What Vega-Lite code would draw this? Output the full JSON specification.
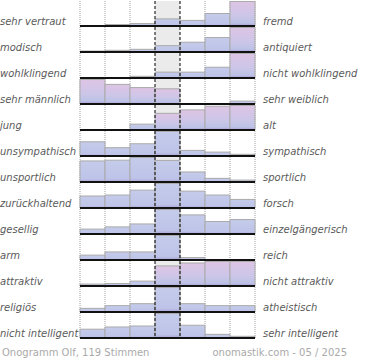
{
  "$schema": "https://vega.github.io/schema/vega-lite/v6.json",
  "padding": 0,
  "autosize": {"type": "pad"},
  "bounds": "flush",
  "data": {"values": [
    {"zeile":1,"links":"sehr vertraut","rechts":"fremd","spalte":1,"wert":0},
    {"zeile":1,"links":"sehr vertraut","rechts":"fremd","spalte":2,"wert":6},
    {"zeile":1,"links":"sehr vertraut","rechts":"fremd","spalte":3,"wert":10},
    {"zeile":1,"links":"sehr vertraut","rechts":"fremd","spalte":4,"wert":29},
    {"zeile":1,"links":"sehr vertraut","rechts":"fremd","spalte":5,"wert":23},
    {"zeile":1,"links":"sehr vertraut","rechts":"fremd","spalte":6,"wert":51},
    {"zeile":1,"links":"sehr vertraut","rechts":"fremd","spalte":7,"wert":100},
    {"zeile":2,"links":"modisch","rechts":"antiquiert","spalte":1,"wert":4},
    {"zeile":2,"links":"modisch","rechts":"antiquiert","spalte":2,"wert":7},
    {"zeile":2,"links":"modisch","rechts":"antiquiert","spalte":3,"wert":11},
    {"zeile":2,"links":"modisch","rechts":"antiquiert","spalte":4,"wert":26},
    {"zeile":2,"links":"modisch","rechts":"antiquiert","spalte":5,"wert":40},
    {"zeile":2,"links":"modisch","rechts":"antiquiert","spalte":6,"wert":59},
    {"zeile":2,"links":"modisch","rechts":"antiquiert","spalte":7,"wert":100},
    {"zeile":3,"links":"wohlklingend","rechts":"nicht wohlklingend","spalte":1,"wert":0},
    {"zeile":3,"links":"wohlklingend","rechts":"nicht wohlklingend","spalte":2,"wert":0},
    {"zeile":3,"links":"wohlklingend","rechts":"nicht wohlklingend","spalte":3,"wert":7},
    {"zeile":3,"links":"wohlklingend","rechts":"nicht wohlklingend","spalte":4,"wert":24},
    {"zeile":3,"links":"wohlklingend","rechts":"nicht wohlklingend","spalte":5,"wert":24},
    {"zeile":3,"links":"wohlklingend","rechts":"nicht wohlklingend","spalte":6,"wert":44},
    {"zeile":3,"links":"wohlklingend","rechts":"nicht wohlklingend","spalte":7,"wert":100},
    {"zeile":4,"links":"sehr männlich","rechts":"sehr weiblich","spalte":1,"wert":100},
    {"zeile":4,"links":"sehr männlich","rechts":"sehr weiblich","spalte":2,"wert":80},
    {"zeile":4,"links":"sehr männlich","rechts":"sehr weiblich","spalte":3,"wert":67},
    {"zeile":4,"links":"sehr männlich","rechts":"sehr weiblich","spalte":4,"wert":62},
    {"zeile":4,"links":"sehr männlich","rechts":"sehr weiblich","spalte":5,"wert":0},
    {"zeile":4,"links":"sehr männlich","rechts":"sehr weiblich","spalte":6,"wert":0},
    {"zeile":4,"links":"sehr männlich","rechts":"sehr weiblich","spalte":7,"wert":12},
    {"zeile":5,"links":"\u2004jung","rechts":"alt","spalte":1,"wert":0},
    {"zeile":5,"links":"\u2004jung","rechts":"alt","spalte":2,"wert":2},
    {"zeile":5,"links":"\u2004jung","rechts":"alt","spalte":3,"wert":24},
    {"zeile":5,"links":"\u2004jung","rechts":"alt","spalte":4,"wert":68},
    {"zeile":5,"links":"\u2004jung","rechts":"alt","spalte":5,"wert":82},
    {"zeile":5,"links":"\u2004jung","rechts":"alt","spalte":6,"wert":97},
    {"zeile":5,"links":"\u2004jung","rechts":"alt","spalte":7,"wert":100},
    {"zeile":6,"links":"unsympathisch","rechts":"sympathisch","spalte":1,"wert":58},
    {"zeile":6,"links":"unsympathisch","rechts":"sympathisch","spalte":2,"wert":34},
    {"zeile":6,"links":"unsympathisch","rechts":"sympathisch","spalte":3,"wert":50},
    {"zeile":6,"links":"unsympathisch","rechts":"sympathisch","spalte":4,"wert":100},
    {"zeile":6,"links":"unsympathisch","rechts":"sympathisch","spalte":5,"wert":23},
    {"zeile":6,"links":"unsympathisch","rechts":"sympathisch","spalte":6,"wert":16},
    {"zeile":6,"links":"unsympathisch","rechts":"sympathisch","spalte":7,"wert":7},
    {"zeile":7,"links":"unsportlich","rechts":"sportlich","spalte":1,"wert":86},
    {"zeile":7,"links":"unsportlich","rechts":"sportlich","spalte":2,"wert":89},
    {"zeile":7,"links":"unsportlich","rechts":"sportlich","spalte":3,"wert":100},
    {"zeile":7,"links":"unsportlich","rechts":"sportlich","spalte":4,"wert":88},
    {"zeile":7,"links":"unsportlich","rechts":"sportlich","spalte":5,"wert":41},
    {"zeile":7,"links":"unsportlich","rechts":"sportlich","spalte":6,"wert":15},
    {"zeile":7,"links":"unsportlich","rechts":"sportlich","spalte":7,"wert":8},
    {"zeile":8,"links":"zurückhaltend","rechts":"forsch","spalte":1,"wert":49},
    {"zeile":8,"links":"zurückhaltend","rechts":"forsch","spalte":2,"wert":53},
    {"zeile":8,"links":"zurückhaltend","rechts":"forsch","spalte":3,"wert":73},
    {"zeile":8,"links":"zurückhaltend","rechts":"forsch","spalte":4,"wert":100},
    {"zeile":8,"links":"zurückhaltend","rechts":"forsch","spalte":5,"wert":69},
    {"zeile":8,"links":"zurückhaltend","rechts":"forsch","spalte":6,"wert":53},
    {"zeile":8,"links":"zurückhaltend","rechts":"forsch","spalte":7,"wert":35},
    {"zeile":9,"links":"gesellig","rechts":"einzelgängerisch","spalte":1,"wert":20},
    {"zeile":9,"links":"gesellig","rechts":"einzelgängerisch","spalte":2,"wert":29},
    {"zeile":9,"links":"gesellig","rechts":"einzelgängerisch","spalte":3,"wert":41},
    {"zeile":9,"links":"gesellig","rechts":"einzelgängerisch","spalte":4,"wert":100},
    {"zeile":9,"links":"gesellig","rechts":"einzelgängerisch","spalte":5,"wert":78},
    {"zeile":9,"links":"gesellig","rechts":"einzelgängerisch","spalte":6,"wert":51},
    {"zeile":9,"links":"gesellig","rechts":"einzelgängerisch","spalte":7,"wert":59},
    {"zeile":10,"links":"arm","rechts":"reich","spalte":1,"wert":20},
    {"zeile":10,"links":"arm","rechts":"reich","spalte":2,"wert":33},
    {"zeile":10,"links":"arm","rechts":"reich","spalte":3,"wert":33},
    {"zeile":10,"links":"arm","rechts":"reich","spalte":4,"wert":100},
    {"zeile":10,"links":"arm","rechts":"reich","spalte":5,"wert":10},
    {"zeile":10,"links":"arm","rechts":"reich","spalte":6,"wert":0},
    {"zeile":10,"links":"arm","rechts":"reich","spalte":7,"wert":0},
    {"zeile":11,"links":"attraktiv","rechts":"nicht attraktiv","spalte":1,"wert":8},
    {"zeile":11,"links":"attraktiv","rechts":"nicht attraktiv","spalte":2,"wert":10},
    {"zeile":11,"links":"attraktiv","rechts":"nicht attraktiv","spalte":3,"wert":20},
    {"zeile":11,"links":"attraktiv","rechts":"nicht attraktiv","spalte":4,"wert":82},
    {"zeile":11,"links":"attraktiv","rechts":"nicht attraktiv","spalte":5,"wert":94},
    {"zeile":11,"links":"attraktiv","rechts":"nicht attraktiv","spalte":6,"wert":100},
    {"zeile":11,"links":"attraktiv","rechts":"nicht attraktiv","spalte":7,"wert":100},
    {"zeile":12,"links":"religiös","rechts":"atheistisch","spalte":1,"wert":15},
    {"zeile":12,"links":"religiös","rechts":"atheistisch","spalte":2,"wert":26},
    {"zeile":12,"links":"religiös","rechts":"atheistisch","spalte":3,"wert":34},
    {"zeile":12,"links":"religiös","rechts":"atheistisch","spalte":4,"wert":100},
    {"zeile":12,"links":"religiös","rechts":"atheistisch","spalte":5,"wert":34},
    {"zeile":12,"links":"religiös","rechts":"atheistisch","spalte":6,"wert":26},
    {"zeile":12,"links":"religiös","rechts":"atheistisch","spalte":7,"wert":26},
    {"zeile":13,"links":"nicht intelligent","rechts":"sehr intelligent","spalte":1,"wert":36},
    {"zeile":13,"links":"nicht intelligent","rechts":"sehr intelligent","spalte":2,"wert":45},
    {"zeile":13,"links":"nicht intelligent","rechts":"sehr intelligent","spalte":3,"wert":49},
    {"zeile":13,"links":"nicht intelligent","rechts":"sehr intelligent","spalte":4,"wert":100},
    {"zeile":13,"links":"nicht intelligent","rechts":"sehr intelligent","spalte":5,"wert":52},
    {"zeile":13,"links":"nicht intelligent","rechts":"sehr intelligent","spalte":6,"wert":15},
    {"zeile":13,"links":"nicht intelligent","rechts":"sehr intelligent","spalte":7,"wert":7}
  ]},
  "facet": {"row": {"field": "zeile", "type": "ordinal", "header": null}},
  "spacing": {"row": 0},
  "resolve": {"scale": {"x": "shared", "y": "shared"}},
  "spec": {
    "width": 175,
    "height": 26,
    "encoding": {
      "x": {"field": "spalte", "type": "ordinal", "scale": {"paddingInner": 0, "paddingOuter": 0}, "axis": null}
    },
    "layer": [
      {
        "transform": [{"filter": "datum.spalte == 4"}],
        "mark": {"type": "bar", "color": "#ebebeb"}
      },
      {
        "transform": [{"filter": "datum.spalte != 4 && datum.spalte != 5"}],
        "mark": {"type": "rule", "color": "#a0a0a0", "strokeDash": [1, 1], "strokeWidth": 1},
        "encoding": {"x": {"field": "spalte", "type": "ordinal", "bandPosition": 0}}
      },
      {
        "transform": [{"filter": "datum.spalte == 7"}],
        "mark": {"type": "rule", "color": "#a0a0a0", "strokeDash": [1, 1], "strokeWidth": 1},
        "encoding": {"x": {"field": "spalte", "type": "ordinal", "bandPosition": 1}}
      },
      {
        "transform": [{"filter": "datum.wert > 0"}],
        "mark": {"type": "bar", "stroke": "#aaaaaa", "strokeWidth": 1},
        "encoding": {
          "y": {"field": "wert", "type": "quantitative", "scale": {"domain": [-4, 102], "nice": false, "zero": false}, "axis": null},
          "y2": {"datum": 0},
          "color": {
            "condition": {
              "test": "indexof([1,2,3,4,5,11], datum.zeile) >= 0 && datum.wert > 60",
              "value": {"gradient": "linear", "x1": 0, "y1": 0, "x2": 0, "y2": 1,
                "stops": [{"offset": 0, "color": "#dec4e4"}, {"offset": 0.55, "color": "#cdc6e8"}, {"offset": 0.88, "color": "#bcc2e6"}, {"offset": 1, "color": "#a99cd2"}]}
            },
            "value": {"gradient": "linear", "x1": 0, "y1": 0, "x2": 0, "y2": 1,
              "stops": [{"offset": 0, "color": "#c5cbea"}, {"offset": 0.85, "color": "#bec4e8"}, {"offset": 1, "color": "#aaa2d4"}]}
          }
        }
      },
      {
        "transform": [{"filter": "datum.spalte == 4"}],
        "mark": {"type": "rule", "color": "#000000", "strokeDash": [3, 2], "strokeWidth": 1},
        "encoding": {"x": {"field": "spalte", "type": "ordinal", "bandPosition": 0}}
      },
      {
        "transform": [{"filter": "datum.spalte == 4"}],
        "mark": {"type": "rule", "color": "#000000", "strokeDash": [3, 2], "strokeWidth": 1},
        "encoding": {"x": {"field": "spalte", "type": "ordinal", "bandPosition": 1}}
      },
      {
        "transform": [{"filter": "datum.spalte == 1"}],
        "mark": {"type": "rule", "color": "#111111", "strokeWidth": 2},
        "encoding": {"x": null, "y": {"datum": 0, "type": "quantitative"}}
      },
      {
        "transform": [{"filter": "datum.spalte == 1"}],
        "mark": {"type": "text", "align": "left", "baseline": "alphabetic", "dx": -92.5, "dy": -1.5, "font": "DejaVu Sans", "fontStyle": "italic", "fontSize": 10, "color": "#5a5a5a"},
        "encoding": {"y": {"datum": 0, "type": "quantitative"}, "text": {"field": "links"}}
      },
      {
        "transform": [{"filter": "datum.spalte == 7"}],
        "mark": {"type": "text", "align": "left", "baseline": "alphabetic", "dx": 20.5, "dy": -1.5, "font": "DejaVu Sans", "fontStyle": "italic", "fontSize": 10, "color": "#5a5a5a"},
        "encoding": {"y": {"datum": 0, "type": "quantitative"}, "text": {"field": "rechts"}}
      },
      {
        "transform": [{"filter": "datum.spalte == 1 && datum.zeile == 13"}],
        "mark": {"type": "text", "align": "left", "baseline": "alphabetic", "dx": -90.5, "dy": 18, "font": "DejaVu Sans", "fontSize": 10, "color": "#aaaaaa"},
        "encoding": {"y": {"datum": 0, "type": "quantitative"}, "text": {"value": "Onogramm Olf, 119 Stimmen"}}
      },
      {
        "transform": [{"filter": "datum.spalte == 7 && datum.zeile == 13"}],
        "mark": {"type": "text", "align": "right", "baseline": "alphabetic", "dx": 104.5, "dy": 18, "font": "DejaVu Sans", "fontSize": 10, "color": "#aaaaaa"},
        "encoding": {"y": {"datum": 0, "type": "quantitative"}, "text": {"value": "onomastik.com - 05 / 2025"}}
      }
    ]
  },
  "config": {"view": {"stroke": null}, "background": "white", "facet": {"spacing": 0}}
}
